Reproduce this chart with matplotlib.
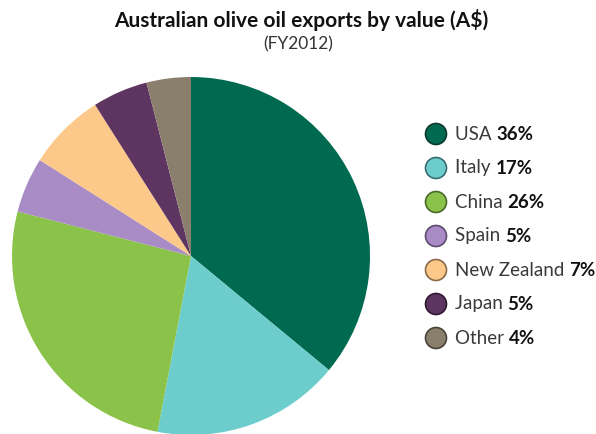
import matplotlib
matplotlib.use("Agg")
import matplotlib.pyplot as plt
from matplotlib.patches import Circle

countries = ["USA", "Italy", "China", "Spain", "New Zealand", "Japan", "Other"]
shares = [36, 17, 26, 5, 7, 5, 4]
colors = ["#006a50", "#6dcdcd", "#8bc34a", "#a98bc5", "#fdc98b", "#5e3560", "#8a7f6c"]
edge_colors = ["#0b3a2e", "#3a6e6e", "#4a6a2a", "#5e4a70", "#8a6a48", "#2e1a30", "#4a4438"]

title = "Australian olive oil exports by value (A$)"
subtitle = "(FY2012)"

W, H = 596, 434
fig = plt.figure(figsize=(W / 100, H / 100), dpi=100)
fig.patch.set_facecolor("white")

# pie: centre (191, 256) px, radius 179 px
cx, cy, r = 191, 256, 179
ax = fig.add_axes([(cx - r) / W, (H - cy - r) / H, 2 * r / W, 2 * r / H])
ax.pie(shares, colors=colors, startangle=90, counterclock=False,
       wedgeprops=dict(linewidth=0))
ax.set_aspect("equal")
ax.set_xlim(-1, 1)
ax.set_ylim(-1, 1)
ax.axis("off")

font = "Lato"
fig.text(301 / W, 1 - 20 / H, title, ha="center", va="center",
         fontsize=15, fontweight="bold", family=font, color="#111111")
fig.text(298 / W, 1 - 44 / H, subtitle, ha="center", va="center",
         fontsize=12.5, family=font, color="#333333")

# legend drawn in pixel space
lax = fig.add_axes([0, 0, 1, 1])
lax.set_xlim(0, W)
lax.set_ylim(H, 0)
lax.axis("off")

fig.canvas.draw()
renderer = fig.canvas.get_renderer()
y0, dy = 134, 34
for i, (name, pct, fc, ec) in enumerate(zip(countries, shares, colors, edge_colors)):
    y = y0 + i * dy
    lax.add_patch(Circle((436, y), 10.5, facecolor=fc, edgecolor=ec, linewidth=1.2))
    t = lax.text(455, y, name + " ", ha="left", va="center", fontsize=13.5,
                 family=font, color="#3a3a3a")
    x_end = t.get_window_extent(renderer=renderer).x1
    lax.text(x_end, y, f"{pct}%", ha="left", va="center", fontsize=13.5,
             family=font, fontweight="bold", color="#111111")

fig.savefig("out.png", dpi=100, facecolor="white")
